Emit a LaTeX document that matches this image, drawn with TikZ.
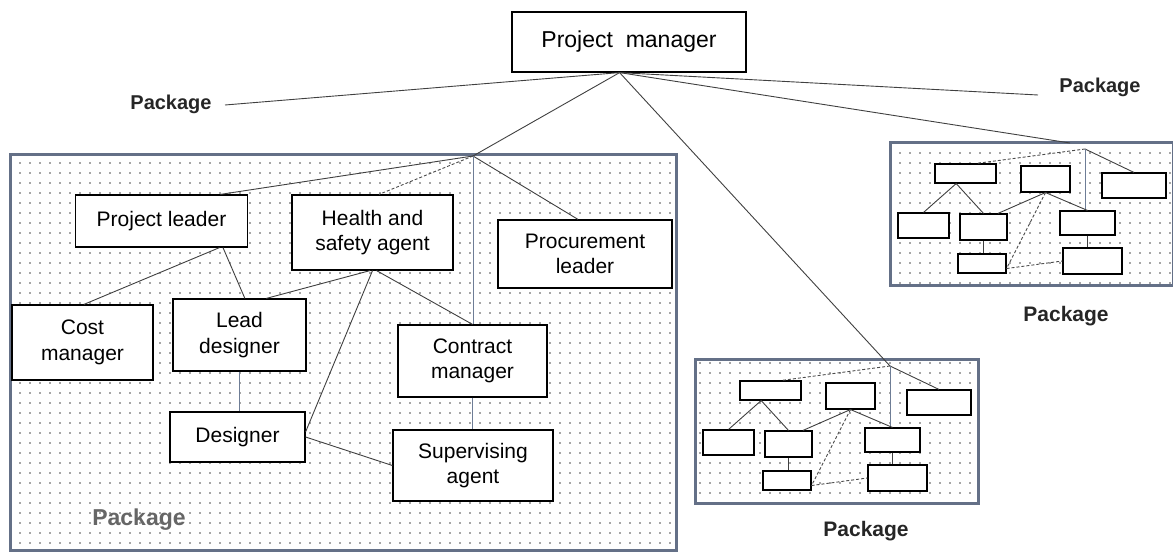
\documentclass[tikz,border=0pt]{standalone}
\usepackage{fontspec}
\setmainfont{Liberation Sans}
\usetikzlibrary{patterns.meta,calc}
\definecolor{frameblue}{RGB}{100,112,135}
\definecolor{lineblue}{RGB}{110,125,150}
\begin{document}
\begin{tikzpicture}[x=1pt,y=-1pt,
  box/.style={draw=black, line width=1.2pt, fill=white, inner sep=2pt,
    font=\fontsize{21}{25.5}\selectfont, align=center},
  sbox/.style={draw=black, line width=1.1pt, fill=white, inner sep=0pt},
  conn/.style={draw=black!75, line width=0.9pt},
  dconn/.style={draw=black!70, line width=0.9pt, densely dashed},
  bconn/.style={draw=lineblue, line width=0.9pt},
  plabel/.style={font=\bfseries\fontsize{20}{22}\selectfont, text=black!85},
  pkgframe/.style={draw=frameblue, line width=3pt},
  pkgfill/.style={pattern={Dots[distance=10pt,radius=0.95pt]}, pattern color=black!70},
  minipkg/.pic={
    \fill[white] (0,0) rectangle (283,143);
    \fill[pkgfill] (0,0) rectangle (283,143);
    \draw[pkgframe] (0,0) rectangle (283,143);
    \coordinate (-apex) at (195,6);
    \coordinate (-entry) at (180,0);
    \node[sbox, minimum width=61pt, minimum height=19pt] (-a) at (75.5,30.5) {};
    \node[sbox, minimum width=49pt, minimum height=26pt] (-b) at (155.5,36) {};
    \node[sbox, minimum width=64pt, minimum height=25pt] (-c) at (244,42.5) {};
    \node[sbox, minimum width=51pt, minimum height=25pt] (-d) at (33.5,82.5) {};
    \node[sbox, minimum width=47pt, minimum height=26pt] (-e) at (93.5,84) {};
    \node[sbox, minimum width=55pt, minimum height=24pt] (-f) at (197.5,80) {};
    \node[sbox, minimum width=48pt, minimum height=19pt] (-g) at (92,120.5) {};
    \node[sbox, minimum width=59pt, minimum height=26pt] (-h) at (202.5,118) {};
    \draw[dconn] (-apex) -- ($(-a.north)!0.35!(-a.north east)$);
    \draw[conn] (-apex) -- (-c.north);
    \draw[bconn] (-apex) -- (-apex |- -f.north);
    \draw[conn] ($(-a.south)!0.3!(-a.south west)$) -- (-d.north);
    \draw[conn] ($(-a.south)!0.3!(-a.south west)$) -- (-e.north);
    \draw[conn] (-b.south) -- ($(-e.north)!0.6!(-e.north east)$);
    \draw[dconn] (-b.south) -- ($(-g.east)!0.5!(-g.south east)$);
    \draw[conn] (-b.south) -- (-f.north);
    \draw[conn] (-e.south) -- (-e.south |- -g.north);
    \draw[conn] (-f.south) -- (-f.south |- -h.north);
    \draw[dconn] ($(-g.east)!0.5!(-g.south east)$) -- (-h.west);
  }
]
\useasboundingbox (0,0) rectangle (1173,553);

% top manager
\node[draw=black, line width=1.2pt, minimum width=234pt, minimum height=60pt,
  font=\fontsize{23}{26}\selectfont] (pm) at (629,42) {Project\ \ manager};
\coordinate (apex) at ($(pm.south west)!0.46!(pm.south east)$);

% package labels
\node[plabel] (lbl1) at (171,104) {Package};
\coordinate (lpk) at (225,105);
\node[plabel] (lbl2) at (1100,87) {Package};
\coordinate (rpk) at (1038,95);

% big package
\fill[white] (10,155) rectangle (676,550);
\fill[pkgfill] (10,155) rectangle (676,550);
\draw[pkgframe] (10,155) rectangle (676,550);
\coordinate (apex1) at (473,156);

% small packages
\pic (mid) at (695,360) {minipkg};
\pic (tr) at (890,143) {minipkg};
\node[plabel, font=\bfseries\fontsize{21}{23}\selectfont] (lbl3) at (866,531) {Package};
\node[plabel, font=\bfseries\fontsize{21}{23}\selectfont] (lbl4) at (1066,316) {Package};

% boxes in big package
\node[box, minimum width=172pt, minimum height=52pt] (pl) at (161.5,221) {Project leader};
\node[box, minimum width=161pt, minimum height=75pt] (hs) at (372.5,232.5) {Health and\\safety agent};
\node[box, minimum width=174pt, minimum height=68pt] (proc) at (585,254) {Procurement\\leader};
\node[box, minimum width=141pt, minimum height=75pt] (costm) at (82.5,342.5) {Cost\\manager};
\node[box, minimum width=133pt, minimum height=72pt] (ld) at (239.5,335) {Lead\\designer};
\node[box, minimum width=149pt, minimum height=72pt] (contm) at (472.5,361) {Contract\\manager};
\node[box, minimum width=135pt, minimum height=50pt] (dz) at (237.5,437) {Designer};
\node[box, minimum width=160pt, minimum height=71pt] (sup) at (473,465.5) {Supervising\\agent};
\node[font=\bfseries\fontsize{23}{25}\selectfont, text=black!60] (lbl5) at (139,520) {Package};

% connectors from project manager
\draw[conn] (apex) -- (lpk);
\draw[conn] (apex) -- (rpk);
\draw[conn] (apex) -- (apex1);
\draw[conn] (apex) -- (mid-apex);
\draw[conn] (apex) -- (tr-entry);

% connectors in big package
\draw[conn] (apex1) -- ($(pl.north)!0.68!(pl.north east)$);
\draw[dconn] (apex1) -- ($(hs.north)!0.08!(hs.north east)$);
\draw[conn] (apex1) -- ($(proc.north)!0.08!(proc.north west)$);
\draw[bconn] (apex1) -- (apex1 |- contm.north);
\draw[conn] ($(pl.south)!0.67!(pl.south east)$) -- ($(costm.north)!0.02!(costm.north east)$);
\draw[conn] ($(pl.south)!0.71!(pl.south east)$) -- ($(ld.north)!0.08!(ld.north east)$);
\draw[conn] ($(hs.south)!0.03!(hs.south west)$) -- ($(ld.north)!0.4!(ld.north east)$);
\draw[conn] (hs.south) -- ($(dz.east)!0.2!(dz.north east)$);
\draw[conn] ($(hs.south)!0.05!(hs.south east)$) -- (contm.north);
\draw[bconn] (ld.south) -- (ld.south |- dz.north);
\draw[bconn] (contm.south) -- (contm.south |- sup.north);
\draw[conn] (dz.east) -- (sup.west);
\end{tikzpicture}
\end{document}
